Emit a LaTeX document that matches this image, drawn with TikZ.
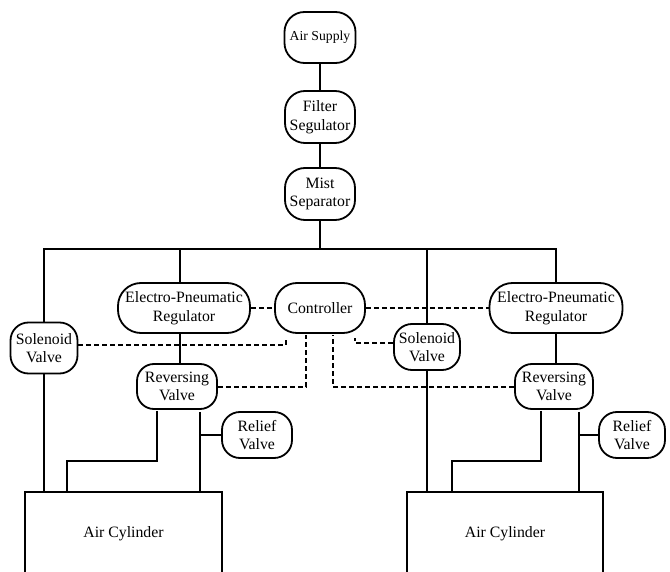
\documentclass[tikz,border=0pt]{standalone}
\usepackage{fontspec}
\setmainfont{Liberation Serif}
\newfontfamily\tnr{Liberation Serif}
\begin{document}
\begin{tikzpicture}[x=1pt,y=-1pt,
  every node/.style={inner sep=0pt, align=center, font=\tnr\fontsize{15.8}{18.5}\selectfont},
  rbox/.style={draw, line width=1.8pt, rounded corners=20pt},
  vbox/.style={draw, line width=1.8pt, rounded corners=18pt},
  cyl/.style={draw, line width=1.8pt, rectangle, minimum width=197pt, minimum height=90pt},
  pipe/.style={line width=2pt},
  sig/.style={line width=2pt, dash pattern=on 5pt off 3pt}]
\path[use as bounding box, clip] (0,0) rectangle (670,572);

\node[rbox, minimum width=71pt, minimum height=51pt, font=\tnr\fontsize{13.7}{16}\selectfont] (as) at (320,37.5) {Air Supply};
\node[rbox, minimum width=70pt, minimum height=52pt] (fs) at (320,117) {Filter\\Segulator};
\node[rbox, minimum width=70pt, minimum height=52pt] (ms) at (320,194) {Mist\\Separator};

\node[rbox, minimum width=132pt, minimum height=50pt, rounded corners=23pt] (epr1) at (184,308) {Electro-Pneumatic\\Regulator};
\node[rbox, minimum width=90pt, minimum height=50pt, rounded corners=22pt] (ctrl) at (320,308) {Controller};
\node[rbox, minimum width=133pt, minimum height=50pt, rounded corners=23pt] (epr2) at (556,308) {Electro-Pneumatic\\Regulator};

\node[vbox, minimum width=67pt, minimum height=51pt] (sol1) at (44,348) {Solenoid\\Valve};
\node[vbox, minimum width=66pt, minimum height=46pt] (sol2) at (427,347) {Solenoid\\Valve};

\node[vbox, minimum width=80pt, minimum height=45pt, rounded corners=17pt] (rv1) at (177,386.5) {Reversing\\Valve};
\node[vbox, minimum width=78pt, minimum height=45pt, rounded corners=17pt] (rv2) at (554,386.5) {Reversing\\Valve};

\node[vbox, minimum width=70pt, minimum height=46pt] (rl1) at (257,435) {Relief\\Valve};
\node[vbox, minimum width=66pt, minimum height=46pt] (rl2) at (632,435) {Relief\\Valve};

\node[cyl] (cyl1) at (123.5,537) {};
\node (t1) at (123.5,534) {Air Cylinder};
\node[cyl, minimum width=196pt] (cyl2) at (505,537) {};
\node (t2) at (505,534) {Air Cylinder};

% coordinates
\coordinate (bus) at (0,249);
\coordinate (x1) at (180,0);
\coordinate (x2) at (556,0);
\coordinate (a1) at (157,461);
\coordinate (b1) at (67,461);
\coordinate (c1) at (200,435);
\coordinate (a2) at (541,461);
\coordinate (b2) at (452,461);
\coordinate (c2) at (579,435);
\coordinate (d1) at (286,0);
\coordinate (d2) at (306,0);
\coordinate (d3) at (333,0);
\coordinate (d4) at (355,0);

% pipes
\draw[pipe] (as.south) -- (fs.north);
\draw[pipe] (fs.south) -- (ms.north);
\draw[pipe] (ms.south) -- (ms.south |- bus);
\draw[pipe] (sol1.north) -- (sol1.north |- bus) -- (x2 |- bus) -- (epr2.north -| x2);
\draw[pipe] (epr1.north -| x1) -- (x1 |- bus);
\draw[pipe] (sol2.north) -- (sol2.north |- bus);
\draw[pipe] (epr1.south -| x1) -- (rv1.north -| x1);
\draw[pipe] (epr2.south -| x2) -- (rv2.north -| x2);

\draw[pipe] (sol1.south) -- (sol1.south |- cyl1.north);
\draw[pipe] (sol2.south) -- (sol2.south |- cyl2.north);

\draw[pipe] ([yshift=-1pt]rv1.south -| a1) -- (a1) -- (b1) -- (b1 |- cyl1.north);
\draw[pipe] ([yshift=-2pt]rv1.south -| c1) -- (c1 |- cyl1.north);
\draw[pipe] (c1) -- (rl1.west);
\draw[pipe] ([yshift=-1pt]rv2.south -| a2) -- (a2) -- (b2) -- (b2 |- cyl2.north);
\draw[pipe] ([yshift=-2pt]rv2.south -| c2) -- (c2 |- cyl2.north);
\draw[pipe] (c2) -- (rl2.west);

% signals
\draw[sig] (epr1.east) -- (ctrl.west);
\draw[sig] (ctrl.east) -- (epr2.west);
\draw[sig] ([yshift=3pt]sol1.east) -| ([yshift=-4pt]ctrl.south -| d1);
\draw[sig] (rv1.east) -| ([yshift=-1pt]ctrl.south -| d2);
\draw[sig] (rv2.west) -| ([yshift=-1pt]ctrl.south -| d3);
\draw[sig] ([yshift=4pt]sol2.west) -| ([yshift=-4pt]ctrl.south -| d4);
\end{tikzpicture}
\end{document}
